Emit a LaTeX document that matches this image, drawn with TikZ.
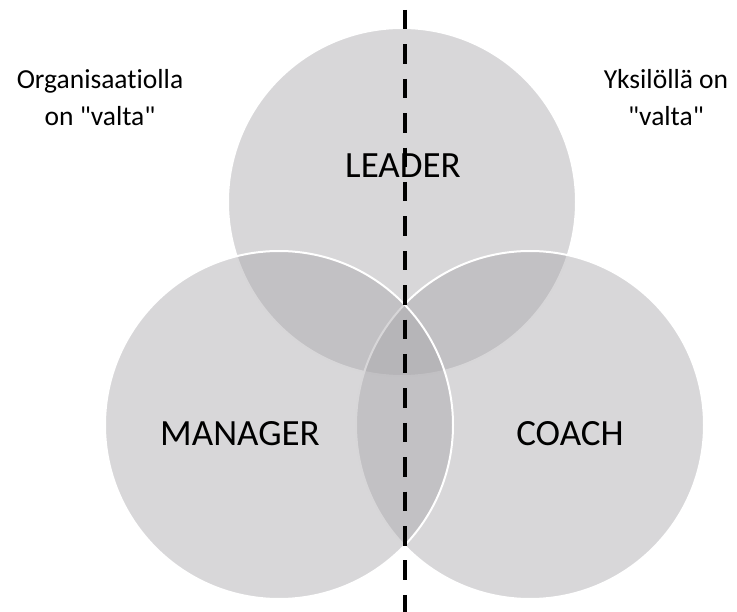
\documentclass[tikz,border=0pt]{standalone}
\usepackage{fontspec}
\setmainfont[Ligatures={NoCommon}]{Carlito}
\definecolor{areagray}{RGB}{168,166,170}

\begin{document}
\begin{tikzpicture}[x=1pt,y=-1pt,line join=round,
  area/.style={fill=areagray,fill opacity=0.45,draw=white,line width=2},
  rolelbl/.style={font=\fontsize{37}{44}\selectfont,anchor=base},
  sidenote/.style={font=\fontsize{27.5}{37}\selectfont,align=center}]
\useasboundingbox (0,0) rectangle (737,612);

% ---- centres of the three roles ----
\coordinate (leader)  at (402,202);
\coordinate (manager) at (279,425);
\coordinate (coach)   at (530,425);

% ---- circles (white rims, see-through grey) ----
\draw[area] (leader)  circle (174);
\draw[area] (coach)   circle (174);
\draw[area] (manager) circle (174);

% ---- dashed divider ----
\coordinate (divtop) at (404.5,10);
\coordinate (divbot) at (404.5,640);
\draw[line width=4,dash pattern=on 19.5 off 14.9] (divtop) -- (divbot);

% ---- role names ----
\node[rolelbl] (leaderlbl)  at (403,178) {LEADER};
\node[rolelbl] (managerlbl) at (240,446) {MANAGER};
\node[rolelbl] (coachlbl)   at (570,446) {COACH};

% ---- who holds the power ----
\node[sidenote] (orgnote) at (100,98)
  {Organisaatiolla\\on \textquotedbl valta\textquotedbl};
\node[sidenote] (selfnote) at (666,98)
  {Yksilöllä on\\\textquotedbl valta\textquotedbl};

\end{tikzpicture}
\end{document}
